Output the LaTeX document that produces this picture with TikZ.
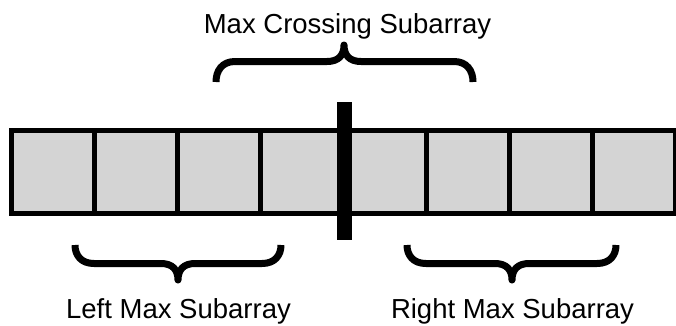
\documentclass[tikz,border=0pt]{standalone}
\usepackage{fontspec}
\setmainfont{Liberation Sans}
\definecolor{cellgray}{RGB}{212,212,212}

% curly brace: left x, right x, tip x, end y, bar y, tip y
\newcommand{\curlybrace}[6]{%
  \draw[brace line]
    (#1,#4) .. controls (#1,{#5+0.45*(#4-#5)}) and ({#1+6},#5) .. ({#1+19},#5)
    -- ({#3-17},#5) .. controls ({#3-6},#5) and (#3,{#5+0.35*(#6-#5)}) .. (#3,#6)
    .. controls (#3,{#5+0.35*(#6-#5)}) and ({#3+6},#5) .. ({#3+17},#5)
    -- ({#2-19},#5) .. controls ({#2-6},#5) and (#2,{#5+0.45*(#4-#5)}) .. (#2,#4);
}

\begin{document}
\begin{tikzpicture}[x=1pt,y=-1pt,
  cell/.style={draw=black, line width=5pt, fill=cellgray,
    minimum size=83pt, inner sep=0pt, outer sep=0pt},
  divider/.style={fill=black, inner sep=0pt, outer sep=0pt,
    minimum width=15pt, minimum height=138pt},
  brace line/.style={line width=7pt, line join=round, line cap=butt},
  label/.style={font=\fontsize{27.5}{30}\selectfont, anchor=base, inner sep=0pt}]
  \useasboundingbox (0,0) rectangle (676,325);

  % array cells
  \foreach \i in {0,...,7}
    \node[cell] (c\i) at ({53+83*\i},172) {};

  % midpoint divider
  \node[divider] (mid) at (344.5,171) {};

  % braces
  \curlybrace{216}{473}{344}{82}{61.5}{45}
  \curlybrace{75}{281}{178}{245}{263.5}{280}
  \curlybrace{407}{616}{512}{245}{263.5}{280}

  % labels
  \node[label] (cross) at (347.5,33) {Max Crossing Subarray};
  \node[label] (left) at (178.5,318) {Left Max Subarray};
  \node[label] (right) at (512.5,318) {Right Max Subarray};
\end{tikzpicture}
\end{document}
